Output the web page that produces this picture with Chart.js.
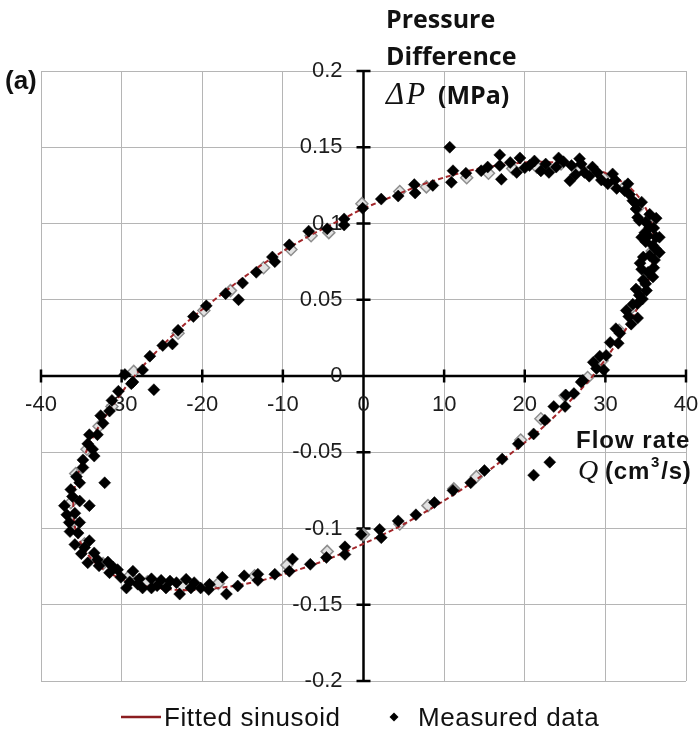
<!DOCTYPE html>
<html>
<head>
<meta charset="utf-8">
<title>Pressure difference vs flow rate</title>
<script src="https://cdn.jsdelivr.net/npm/chart.js@4.4.1/dist/chart.umd.min.js"></script>
<style>
  html, body { margin: 0; padding: 0; background: #fff; }
  #wrap { width: 698px; height: 735px; position: relative; }
</style>
</head>
<body>
<div id="wrap"><canvas id="loopChart" width="698" height="735"></canvas></div>
<script>
// axis ticks
const xTicks = [-40, -30, -20, -10, 0, 10, 20, 30, 40];
const xTickLabels = ['-40', '-30', '-20', '-10', '0', '10', '20', '30', '40'];
const yTicks = [0.2, 0.15, 0.1, 0.05, 0, -0.05, -0.1, -0.15, -0.2];
const yTickLabels = ['0.2', '0.15', '0.1', '0.05', '0', '-0.05', '-0.1', '-0.15', '-0.2'];

// fitted sinusoid, [Q, dP] around the loop
const fitted = [
  [0, 0.110], [9.3, 0.129], [18.0, 0.139], [25.5, 0.139], [31.2, 0.130], [34.8, 0.112],
  [36.0, 0.086], [34.8, 0.055], [31.2, 0.020], [25.5, -0.017], [18.0, -0.052], [9.3, -0.084],
  [0, -0.110], [-9.3, -0.129], [-18.0, -0.139], [-25.5, -0.139], [-31.2, -0.130], [-34.8, -0.112],
  [-36.0, -0.086], [-34.8, -0.055], [-31.2, -0.020], [-25.5, 0.017], [-18.0, 0.052], [-9.3, 0.084],
  [0, 0.110]
];

// measured data, upper branch (left crossing -> top)
const measuredUpper = [
  [-30.4, -0.010], [-29.6, 0.001], [-28.8, -0.005], [-27.4, 0.004], [-26.5, 0.013], [-26.0, -0.009],
  [-24.9, 0.020], [-23.7, 0.021], [-23.0, 0.030], [-21.1, 0.039], [-19.5, 0.046], [-17.1, 0.054],
  [-15.5, 0.050], [-15.0, 0.061], [-13.3, 0.068], [-11.3, 0.078], [-11.0, 0.075], [-9.2, 0.086],
  [-6.8, 0.095], [-4.5, 0.0965], [-2.4, 0.103], [-2.4, 0.099], [-0.1, 0.110], [2.2, 0.116],
  [4.3, 0.118], [6.3, 0.1255], [6.4, 0.120], [8.6, 0.125], [10.7, 0.150], [11.1, 0.1346],
  [10.9, 0.127], [12.7, 0.133], [14.6, 0.1346], [15.4, 0.137], [16.9, 0.145], [16.9, 0.138],
  [17.1, 0.129], [18.2, 0.140], [19.0, 0.1335], [19.4, 0.143], [20.0, 0.1365], [20.6, 0.138],
  [21.2, 0.141], [22.0, 0.1345], [22.6, 0.139], [23.0, 0.1335], [24.2, 0.143], [23.9, 0.137],
  [24.8, 0.1405], [25.8, 0.138], [26.3, 0.132], [25.6, 0.128], [26.8, 0.1425], [27.0, 0.139],
  [27.4, 0.1335], [28.0, 0.131], [28.4, 0.137], [29.0, 0.1335], [29.5, 0.1285], [30.3, 0.126],
  [30.9, 0.1325], [31.2, 0.1285], [31.4, 0.123]
];

// measured data, right end
const measuredRight = [
  [32.4, 0.1215], [32.8, 0.126], [33.0, 0.119], [33.4, 0.115], [33.8, 0.1095], [34.5, 0.114],
  [33.8, 0.113], [34.0, 0.104], [34.2, 0.102], [35.0, 0.101], [35.5, 0.106], [36.3, 0.1035],
  [36.0, 0.097], [35.5, 0.0975], [34.5, 0.091], [35.3, 0.092], [36.3, 0.091], [35.9, 0.0855],
  [34.9, 0.094], [36.7, 0.091], [35.0, 0.088], [36.2, 0.0835], [36.7, 0.081], [35.5, 0.079],
  [34.7, 0.078], [36.1, 0.076], [34.3, 0.074], [36.0, 0.071], [34.5, 0.070], [35.3, 0.068],
  [35.9, 0.065], [34.7, 0.063], [35.0, 0.0605], [33.8, 0.057], [35.1, 0.056], [34.2, 0.053],
  [34.6, 0.0505], [34.0, 0.0475], [33.4, 0.047], [32.6, 0.043], [32.9, 0.039], [34.0, 0.038],
  [33.2, 0.034], [31.3, 0.031], [31.8, 0.028], [30.6, 0.022], [31.6, 0.0215], [30.1, 0.0135],
  [29.3, 0.013], [28.5, 0.009], [28.9, 0.005], [29.8, 0.004], [27.0, -0.004], [27.2, -0.003],
  [25.1, -0.0125], [26.1, -0.0115]
];

// measured data, lower branch (right crossing -> bottom)
const measuredLower = [
  [23.6, -0.020], [25.0, -0.020], [22.5, -0.029], [21.1, -0.038], [19.2, -0.0445], [17.2, -0.0545],
  [21.1, -0.065], [23.1, -0.0565], [15.0, -0.062], [13.3, -0.070], [11.1, -0.075], [8.8, -0.083],
  [6.5, -0.091], [4.3, -0.095], [2.0, -0.1006], [2.2, -0.106], [-0.3, -0.104], [-2.3, -0.112],
  [-2.3, -0.117], [-4.6, -0.119], [-6.6, -0.1235], [-8.8, -0.120], [-9.2, -0.128], [-11.0, -0.130],
  [-13.1, -0.130], [-13.1, -0.134], [-14.8, -0.131], [-15.6, -0.1377], [-17.5, -0.132], [-17.0, -0.143],
  [-19.1, -0.1366], [-19.2, -0.140], [-20.2, -0.139], [-21.0, -0.1355], [-21.4, -0.139], [-22.0, -0.1333],
  [-22.8, -0.143], [-23.2, -0.1355], [-24.0, -0.1345], [-24.5, -0.139], [-25.1, -0.134], [-25.6, -0.1375],
  [-26.3, -0.133], [-26.3, -0.139], [-27.4, -0.139], [-27.8, -0.133], [-28.0, -0.1365], [-28.6, -0.128],
  [-29.0, -0.135], [-29.4, -0.139], [-30.1, -0.132], [-30.5, -0.127], [-31.0, -0.1255], [-31.5, -0.129],
  [-31.7, -0.122]
];

// measured data, left end
const measuredLeft = [
  [-32.8, -0.1245], [-33.0, -0.1205], [-34.2, -0.1225], [-33.4, -0.116], [-35.0, -0.1165], [-34.6, -0.1125],
  [-35.8, -0.1105], [-34.0, -0.108], [-35.4, -0.103], [-36.4, -0.102], [-35.2, -0.096], [-36.5, -0.096],
  [-36.8, -0.091], [-35.8, -0.090], [-37.1, -0.085], [-34.0, -0.085], [-35.2, -0.082], [-36.1, -0.079],
  [-36.3, -0.0745], [-35.2, -0.070], [-32.1, -0.070], [-35.6, -0.066], [-34.8, -0.060], [-34.8, -0.055],
  [-33.4, -0.0525], [-33.6, -0.048], [-34.2, -0.0445], [-34.0, -0.0385], [-33.0, -0.0385], [-32.3, -0.031],
  [-32.6, -0.026], [-31.5, -0.023], [-31.2, -0.016], [-28.6, -0.004]
];

// second, lighter set of measurements lying under the black ones
const measuredGrey = [
  [-28.5, 0.003], [-23.0, 0.028], [-19.8, 0.043], [-16.5, 0.056], [-12.4, 0.071], [-9.0, 0.083],
  [-6.5, 0.092], [-4.3, 0.094], [-0.2, 0.113], [4.5, 0.121], [7.8, 0.124], [12.8, 0.130],
  [15.5, 0.133], [18.5, 0.136], [21.5, 0.137], [24.5, 0.139], [27.0, 0.136], [29.7, 0.130],
  [32.4, 0.124], [34.0, 0.110], [35.3, 0.100], [35.8, 0.082], [35.4, 0.066], [34.5, 0.056],
  [33.3, 0.045], [31.7, 0.030], [29.6, 0.010], [27.8, -0.001], [25.0, -0.013], [22.0, -0.028],
  [19.5, -0.042], [14.0, -0.066], [11.2, -0.074], [8.0, -0.085], [4.5, -0.097], [0, -0.104],
  [-4.5, -0.115], [-9.5, -0.124], [-13.5, -0.131], [-18.0, -0.136], [-22.4, -0.138], [-26.8, -0.135],
  [-29.0, -0.131], [-32.3, -0.123], [-34.6, -0.110], [-36.0, -0.095], [-36.3, -0.083], [-35.7, -0.064],
  [-34.3, -0.048], [-32.8, -0.033], [-31.2, -0.020]
];

const toXY = pts => pts.map(p => ({ x: p[0], y: p[1] }));
const measured = [].concat(measuredUpper, measuredRight, measuredLower, measuredLeft);

const FIT_COLOR = '#a3262a';
const SANS = '"Liberation Sans", Arial, sans-serif';
const SERIF_IT = 'italic 31px "Liberation Serif", "DejaVu Serif", serif';

// axes through the origin, with crossing tick marks and labels
const crossAxes = {
  id: 'crossAxes',
  beforeDatasetsDraw(chart) {
    const { ctx, chartArea, scales: { x, y } } = chart;
    const x0 = x.getPixelForValue(0);
    const y0 = y.getPixelForValue(0);
    ctx.save();
    ctx.strokeStyle = '#000';
    ctx.lineWidth = 2.5;
    ctx.beginPath();
    ctx.moveTo(chartArea.left, y0);
    ctx.lineTo(chartArea.right, y0);
    ctx.moveTo(x0, chartArea.top);
    ctx.lineTo(x0, chartArea.bottom);
    xTicks.forEach(v => {
      const px = x.getPixelForValue(v);
      ctx.moveTo(px, y0 - 6.5);
      ctx.lineTo(px, y0 + 6.5);
    });
    yTicks.forEach(v => {
      const py = y.getPixelForValue(v);
      ctx.moveTo(x0 - 7, py);
      ctx.lineTo(x0 + 7, py);
    });
    ctx.stroke();

    ctx.fillStyle = '#1c1c1c';
    ctx.font = '22px ' + SANS;
    ctx.textAlign = 'center';
    ctx.textBaseline = 'alphabetic';
    xTicks.forEach((v, i) => ctx.fillText(xTickLabels[i], x.getPixelForValue(v), y0 + 35));
    ctx.textAlign = 'right';
    ctx.textBaseline = 'middle';
    yTicks.forEach((v, i) => ctx.fillText(yTickLabels[i], x0 - 21, y.getPixelForValue(v)));
    ctx.restore();
  },
  afterDraw(chart) {
    const ctx = chart.ctx;
    ctx.save();
    ctx.fillStyle = '#111';
    ctx.textAlign = 'left';
    ctx.textBaseline = 'alphabetic';

    // panel tag
    ctx.font = 'bold 26px ' + SANS;
    ctx.fillText('(a)', 5, 89);

    // y-axis title
    ctx.font = 'bold 25px "Open Sans", sans-serif';
    ctx.fillText('Pressure', 386, 28);
    ctx.fillText('Difference', 386, 65);
    ctx.font = SERIF_IT;
    ctx.letterSpacing = '2px';
    ctx.fillText('\u0394P', 386, 104);
    ctx.letterSpacing = '0px';
    ctx.font = 'bold 25px "Open Sans", sans-serif';
    ctx.fillText('(MPa)', 438, 104);

    // x-axis title
    ctx.letterSpacing = '1px';
    ctx.font = 'bold 24px ' + SANS;
    ctx.fillText('Flow rate', 576, 448);
    ctx.letterSpacing = '0px';
    ctx.font = 'italic 28px "Liberation Serif", "DejaVu Serif", serif';
    ctx.fillText('Q', 578, 479);
    let cx = 605;
    ctx.letterSpacing = '0.8px';
    ctx.font = 'bold 24px ' + SANS;
    ctx.fillText('(cm', cx, 479);
    cx += ctx.measureText('(cm').width + 1;
    ctx.font = 'bold 15px ' + SANS;
    ctx.fillText('3', cx, 467);
    cx += ctx.measureText('3').width + 1;
    ctx.font = 'bold 24px ' + SANS;
    ctx.fillText('/s)', cx, 479);

    // legend
    ctx.letterSpacing = '0px';
    ctx.strokeStyle = '#8b1d20';
    ctx.lineWidth = 2.5;
    ctx.beginPath();
    ctx.moveTo(121, 717);
    ctx.lineTo(161, 717);
    ctx.stroke();
    ctx.fillStyle = '#000';
    ctx.beginPath();
    ctx.moveTo(394, 712.5);
    ctx.lineTo(398.5, 717);
    ctx.lineTo(394, 721.5);
    ctx.lineTo(389.5, 717);
    ctx.closePath();
    ctx.fill();
    ctx.fillStyle = '#111';
    ctx.letterSpacing = '0.6px';
    ctx.font = '26px ' + SANS;
    ctx.fillText('Fitted sinusoid', 164, 726);
    ctx.fillText('Measured data', 418, 726);
    ctx.restore();
  }
};

const ctx = document.getElementById('loopChart').getContext('2d');
new Chart(ctx, {
  type: 'scatter',
  data: {
    datasets: [
      {
        label: 'Measured data (grey)',
        data: toXY(measuredGrey),
        pointStyle: 'rectRot',
        pointRadius: 6,
        backgroundColor: '#e2e2e2',
        borderColor: '#8e8e8e',
        borderWidth: 1.5,
        order: 3
      },
      {
        label: 'Fitted sinusoid',
        data: toXY(fitted),
        showLine: true,
        tension: 0.4,
        pointRadius: 0,
        borderColor: FIT_COLOR,
        borderWidth: 2,
        borderDash: [5, 3],
        order: 2
      },
      {
        label: 'Measured data',
        data: toXY(measured),
        pointStyle: 'rectRot',
        pointRadius: 6,
        backgroundColor: '#000',
        borderColor: '#000',
        borderWidth: 0.5,
        order: 1
      }
    ]
  },
  options: {
    responsive: false,
    animation: false,
    devicePixelRatio: 1,
    layout: { padding: { left: 41, right: 12, top: 71, bottom: 54 } },
    plugins: {
      legend: { display: false },
      tooltip: { enabled: false }
    },
    scales: {
      x: {
        type: 'linear',
        min: -40,
        max: 40,
        ticks: { display: false, stepSize: 10 },
        grid: { color: '#b5b5b5', lineWidth: 1, drawTicks: false },
        border: { display: false }
      },
      y: {
        type: 'linear',
        min: -0.2,
        max: 0.2,
        ticks: { display: false, stepSize: 0.05 },
        grid: { color: '#b5b5b5', lineWidth: 1, drawTicks: false },
        border: { display: false }
      }
    }
  },
  plugins: [crossAxes]
});
</script>
</body>
</html>
